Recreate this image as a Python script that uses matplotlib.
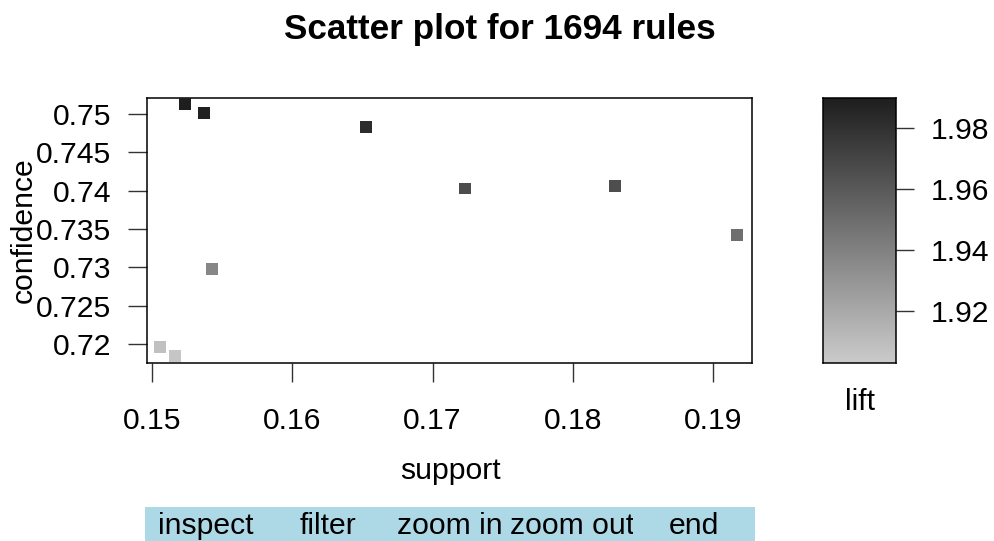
import matplotlib
matplotlib.use("Agg")
import matplotlib.pyplot as plt
import numpy as np
from matplotlib.colors import LinearSegmentedColormap, Normalize

plt.rcParams['font.family'] = ['Liberation Sans', 'DejaVu Sans']

# data
support = [0.15235, 0.15371, 0.16526, 0.17232, 0.18301, 0.19171, 0.15428, 0.15057, 0.15164]
confidence = [0.7513, 0.7501, 0.7483, 0.7403, 0.7406, 0.7342, 0.7298, 0.7196, 0.7184]
lift = [1.9895, 1.988, 1.983, 1.9666, 1.9656, 1.9494, 1.937, 1.9086, 1.906]
x_ticks = [0.15, 0.16, 0.17, 0.18, 0.19]
x_ticklabels = ["0.15", "0.16", "0.17", "0.18", "0.19"]
y_ticks = [0.72, 0.725, 0.73, 0.735, 0.74, 0.745, 0.75]
y_ticklabels = ["0.72", "0.725", "0.73", "0.735", "0.74", "0.745", "0.75"]
c_ticks = [1.92, 1.94, 1.96, 1.98]
c_ticklabels = ["1.92", "1.94", "1.96", "1.98"]
buttons = ["inspect", "filter", "zoom in", "zoom out", "end"]
title = "Scatter plot for 1694 rules"

W, H = 994, 541
fig = plt.figure(figsize=(W / 100, H / 100), dpi=100)

def fx(px):
    return px / W

def fy(py):
    return 1 - py / H

cmap = LinearSegmentedColormap.from_list("g", ["#cbcbcb", "#1e1e1e"])
norm = Normalize(vmin=1.903, vmax=1.9898)

FS = 21.7

ax = fig.add_axes([fx(147), fy(363), fx(752) - fx(147), fy(98) - fy(363)])
ax.scatter(support, confidence, c=lift, cmap=cmap, norm=norm, marker="s", s=70,
           linewidths=0, zorder=3, clip_on=True)
ax.set_xlim(0.14964, 0.19278)
ax.set_ylim(0.71752, 0.75209)
ax.set_xticks(x_ticks)
ax.set_xticklabels(x_ticklabels)
ax.set_yticks(y_ticks)
ax.set_yticklabels(y_ticklabels)
ax.tick_params(axis="both", direction="out", length=13.5, width=1.0, labelsize=FS, color="#333333")
ax.tick_params(axis="x", pad=18)
ax.tick_params(axis="y", pad=12)
for sp in ax.spines.values():
    sp.set_linewidth(1.1)

# colorbar
cax = fig.add_axes([fx(823), fy(363), fx(896) - fx(823), fy(98) - fy(363)])
grad = np.linspace(1.903, 1.9898, 256).reshape(-1, 1)
cax.imshow(grad, aspect="auto", cmap=cmap, norm=norm, origin="lower",
           extent=[0, 1, 1.903, 1.9898])
cax.set_xlim(0, 1)
cax.set_ylim(1.903, 1.9898)
cax.set_xticks([])
cax.yaxis.tick_right()
cax.set_yticks(c_ticks)
cax.set_yticklabels(c_ticklabels)
cax.tick_params(axis="y", direction="out", length=13, width=1.0, labelsize=FS, pad=12, color="#333333")
for sp in cax.spines.values():
    sp.set_linewidth(1.1)

# labels
fig.text(fx(500), fy(30), title, ha="center", va="center", fontsize=25.3, fontweight="bold")
fig.text(fx(450), fy(471), "support", ha="center", va="center", fontsize=FS)
fig.text(fx(24), fy(230), "confidence", ha="center", va="center", fontsize=FS, rotation=90)
fig.text(fx(860), fy(402), "lift", ha="center", va="center", fontsize=FS)

# button bar
bx0, bx1 = 145, 755
bw = (bx1 - bx0) / len(buttons)
for i, b in enumerate(buttons):
    bax = fig.add_axes([fx(bx0 + i * bw), 0, bw / W, fy(507)])
    bax.set_facecolor("#add8e6")
    bax.set_xticks([])
    bax.set_yticks([])
    for sp in bax.spines.values():
        sp.set_visible(False)
    bax.set_xlim(0, 1)
    bax.set_ylim(0, 1)
    t = bax.text(0.5, 0.45, b, ha="center", va="center", fontsize=FS)
    t.set_clip_path(bax.patch)
    t.set_clip_on(True)

fig.savefig("out.png", dpi=100)
